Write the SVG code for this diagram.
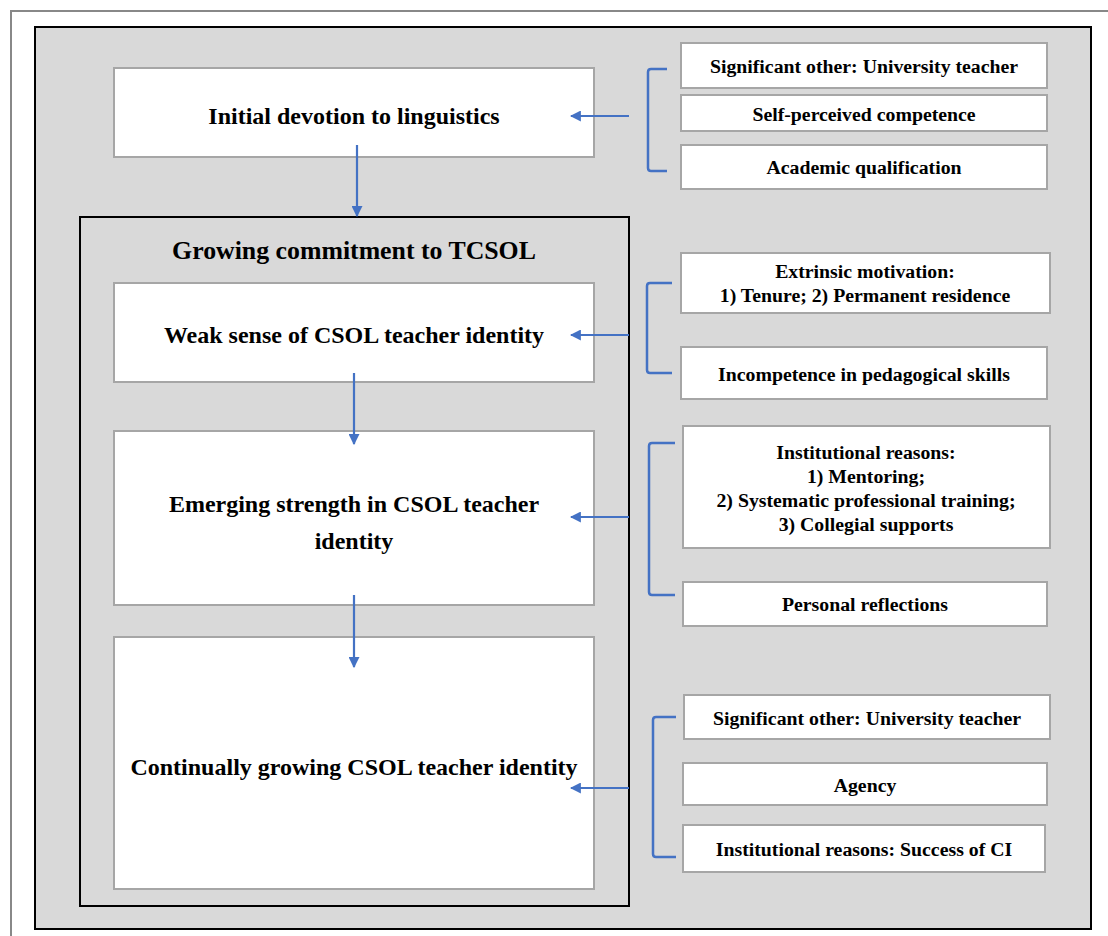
<svg xmlns="http://www.w3.org/2000/svg" width="1108" height="936" viewBox="0 0 1108 936">
<defs>
<style>
.main{fill:#fff;stroke:#a6a6a6;stroke-width:2}
.side{fill:#fff;stroke:#a6a6a6;stroke-width:2}
.t{font-family:"Liberation Serif","Times New Roman",serif;font-weight:bold;fill:#000;text-anchor:middle}
.big{font-size:24px}
.ttl{font-size:25.8px}
.sm{font-size:19.8px}
.conn{fill:none;stroke:#4472c4;stroke-width:2.2}
.br{fill:none;stroke:#4472c4;stroke-width:2.5}
</style>
<marker id="ah" viewBox="0 0 10 10" refX="9" refY="5" markerWidth="5" markerHeight="5" orient="auto" markerUnits="strokeWidth">
<path d="M0,0 L10,5 L0,10 z" fill="#4472c4"/>
</marker>
</defs>
<rect x="0" y="0" width="1108" height="936" fill="#fff"/>
<path d="M11,940 L11,11 L1112,11" fill="none" stroke="#888" stroke-width="2"/>
<rect x="35" y="27" width="1056" height="902" fill="#d9d9d9" stroke="#000" stroke-width="2"/>
<g id="growing">
<rect x="80" y="217" width="549" height="689" fill="#d9d9d9" stroke="#000" stroke-width="2"/>
<text class="t ttl" x="354" y="259">Growing commitment to TCSOL</text>
</g>
<g id="initial"><rect class="main" x="114" y="68" width="480" height="89"/><text class="t big" x="354" y="124">Initial devotion to linguistics</text></g>
<g id="weak"><rect class="main" x="114" y="283" width="480" height="99"/><text class="t big" x="354" y="343">Weak sense of CSOL teacher identity</text></g>
<g id="emerging"><rect class="main" x="114" y="431" width="480" height="174"/><text class="t big" x="354" y="512">Emerging strength in CSOL teacher</text><text class="t big" x="354" y="549">identity</text></g>
<g id="continual"><rect class="main" x="114" y="637" width="480" height="252"/><text class="t big" x="354" y="775">Continually growing CSOL teacher identity</text></g>
<g id="s1"><rect class="side" x="681" y="43" width="366" height="45"/><text class="t sm" x="864" y="73">Significant other: University teacher</text></g>
<g id="s2"><rect class="side" x="681" y="95" width="366" height="36"/><text class="t sm" x="864" y="121">Self-perceived competence</text></g>
<g id="s3"><rect class="side" x="681" y="145" width="366" height="44"/><text class="t sm" x="864" y="174">Academic qualification</text></g>
<g id="s4"><rect class="side" x="681" y="253" width="369" height="60"/><text class="t sm" x="865" y="278">Extrinsic motivation:</text><text class="t sm" x="865" y="302">1) Tenure; 2) Permanent residence</text></g>
<g id="s5"><rect class="side" x="681" y="347" width="366" height="52"/><text class="t sm" x="864" y="381">Incompetence in pedagogical skills</text></g>
<g id="s6"><rect class="side" x="683" y="426" width="367" height="122"/><text class="t sm" x="866" y="459">Institutional reasons:</text><text class="t sm" x="866" y="483">1) Mentoring;</text><text class="t sm" x="866" y="507">2) Systematic professional training;</text><text class="t sm" x="866" y="531">3) Collegial supports</text></g>
<g id="s7"><rect class="side" x="683" y="582" width="364" height="44"/><text class="t sm" x="865" y="611">Personal reflections</text></g>
<g id="s8"><rect class="side" x="684" y="695" width="366" height="44"/><text class="t sm" x="867" y="725">Significant other: University teacher</text></g>
<g id="s9"><rect class="side" x="683" y="763" width="364" height="42"/><text class="t sm" x="865" y="792">Agency</text></g>
<g id="s10"><rect class="side" x="683" y="825" width="362" height="47"/><text class="t sm" x="864" y="856">Institutional reasons: Success of CI</text></g>
<g id="connectors">
<path class="br" d="M667,69 L651,69 Q648,69 648,72 L648,168 Q648,171 651,171 L667,171"/>
<path class="br" d="M672,283 L650,283 Q647,283 647,286 L647,370 Q647,373 650,373 L672,373"/>
<path class="br" d="M675,443 L652,443 Q649,443 649,446 L649,592 Q649,595 652,595 L675,595"/>
<path class="br" d="M676,717 L656,717 Q653,717 653,720 L653,854 Q653,857 656,857 L676,857"/>
<line class="conn" x1="629" y1="116" x2="571" y2="116" marker-end="url(#ah)"/>
<line class="conn" x1="629" y1="335" x2="571" y2="335" marker-end="url(#ah)"/>
<line class="conn" x1="629" y1="517" x2="571" y2="517" marker-end="url(#ah)"/>
<line class="conn" x1="629" y1="788" x2="571" y2="788" marker-end="url(#ah)"/>
<line class="conn" x1="357" y1="145" x2="357" y2="216" marker-end="url(#ah)"/>
<line class="conn" x1="354" y1="373" x2="354" y2="444" marker-end="url(#ah)"/>
<line class="conn" x1="354" y1="595" x2="354" y2="667" marker-end="url(#ah)"/>
</g>
</svg>
